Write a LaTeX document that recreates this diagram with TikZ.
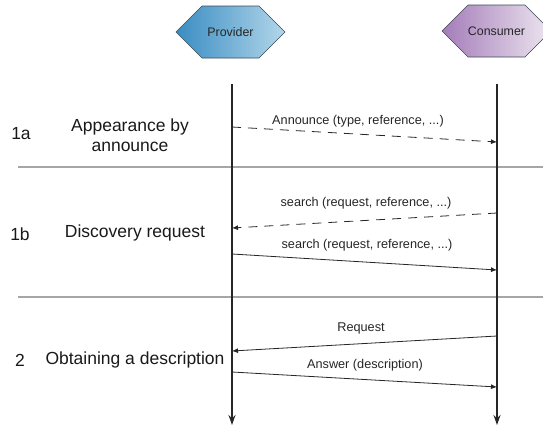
\documentclass[tikz,border=0pt]{standalone}
\usepackage{fontspec}
\setmainfont{Liberation Sans}
\usetikzlibrary{arrows.meta}
\definecolor{provL}{HTML}{3A8DC2}
\definecolor{provR}{HTML}{B2D6EA}
\definecolor{consL}{HTML}{A47CB9}
\definecolor{consR}{HTML}{EDE6F0}
\definecolor{hexline}{HTML}{3C4A55}
\begin{document}
\begin{tikzpicture}[x=1pt,y=-1pt,
  msg/.style={draw=black!85, line width=0.8pt, -{Latex[length=6pt,width=5pt]}},
  dmsg/.style={msg, dash pattern=on 9pt off 7pt},
  life/.style={draw=black!85, line width=1.6pt, -{Stealth[length=10pt,width=7pt]}},
  sep/.style={draw=black!35, line width=1.2pt},
  lbl/.style={font=\fontsize{12.7}{15}\selectfont, inner sep=0pt, text=black!85},
  sec/.style={font=\fontsize{17.5}{20.5}\selectfont, inner sep=0pt, align=center, text=black!90},
  hexlbl/.style={font=\fontsize{12.4}{14}\selectfont, inner sep=0pt, text=black!85},
]
\useasboundingbox (0,0) rectangle (543,426);
\clip (0,0) rectangle (543,426);

% actor hexagons
\path[draw=hexline, line width=0.6pt, left color=provL, right color=provR]
  (176,32) -- (202,6) -- (259,6) -- (285,32) -- (259,58) -- (202,58) -- cycle;
\node[hexlbl] (prov) at (230.5,32) {Provider};
\path[draw=hexline, line width=0.6pt, left color=consL, right color=consR]
  (442,31) -- (468,5) -- (525,5) -- (551,31) -- (525,57) -- (468,57) -- cycle;
\node[hexlbl] (cons) at (496.5,31) {Consumer};

% separators
\coordinate (s1a) at (18,167);
\coordinate (s1b) at (543,167);
\coordinate (s2a) at (18,297);
\coordinate (s2b) at (543,297);
\draw[sep] (s1a) -- (s1b);
\draw[sep] (s2a) -- (s2b);

% lifelines
\coordinate (ptop) at (232,84);
\coordinate (pbot) at (232,425);
\coordinate (ctop) at (497,84);
\coordinate (cbot) at (497,425);
\draw[life] (ptop) -- (pbot);
\draw[life] (ctop) -- (cbot);

% section labels
\node[sec] (n1a) at (21,134) {1a};
\node[sec] (t1a) at (130,135) {Appearance by\\announce};
\node[sec] (n1b) at (20,234) {1b};
\node[sec] (t1b) at (135,233) {Discovery request};
\node[sec] (n2) at (20,360) {2};
\node[sec] (t2) at (135,360) {Obtaining a description};

% message end points
\coordinate (a1) at (232,127);
\coordinate (a2) at (497,142);
\coordinate (b1) at (497,213);
\coordinate (b2) at (232,228);
\coordinate (c1) at (232,254);
\coordinate (c2) at (497,270);
\coordinate (d1) at (497,336);
\coordinate (d2) at (232,351);
\coordinate (e1) at (232,372);
\coordinate (e2) at (497,387);

\draw[dmsg] (a1) -- (a2);
\draw[dmsg] (b1) -- (b2);
\draw[msg] (c1) -- (c2);
\draw[msg] (d1) -- (d2);
\draw[msg] (e1) -- (e2);

% message labels
\node[lbl] (la) at (358,121) {Announce (type, reference, ...)};
\node[lbl] (lb) at (366,203) {search (request, reference, ...)};
\node[lbl] (lc) at (367,245) {search (request, reference, ...)};
\node[lbl] (ld) at (361,328) {Request};
\node[lbl] (le) at (365,365) {Answer (description)};
\end{tikzpicture}
\end{document}
